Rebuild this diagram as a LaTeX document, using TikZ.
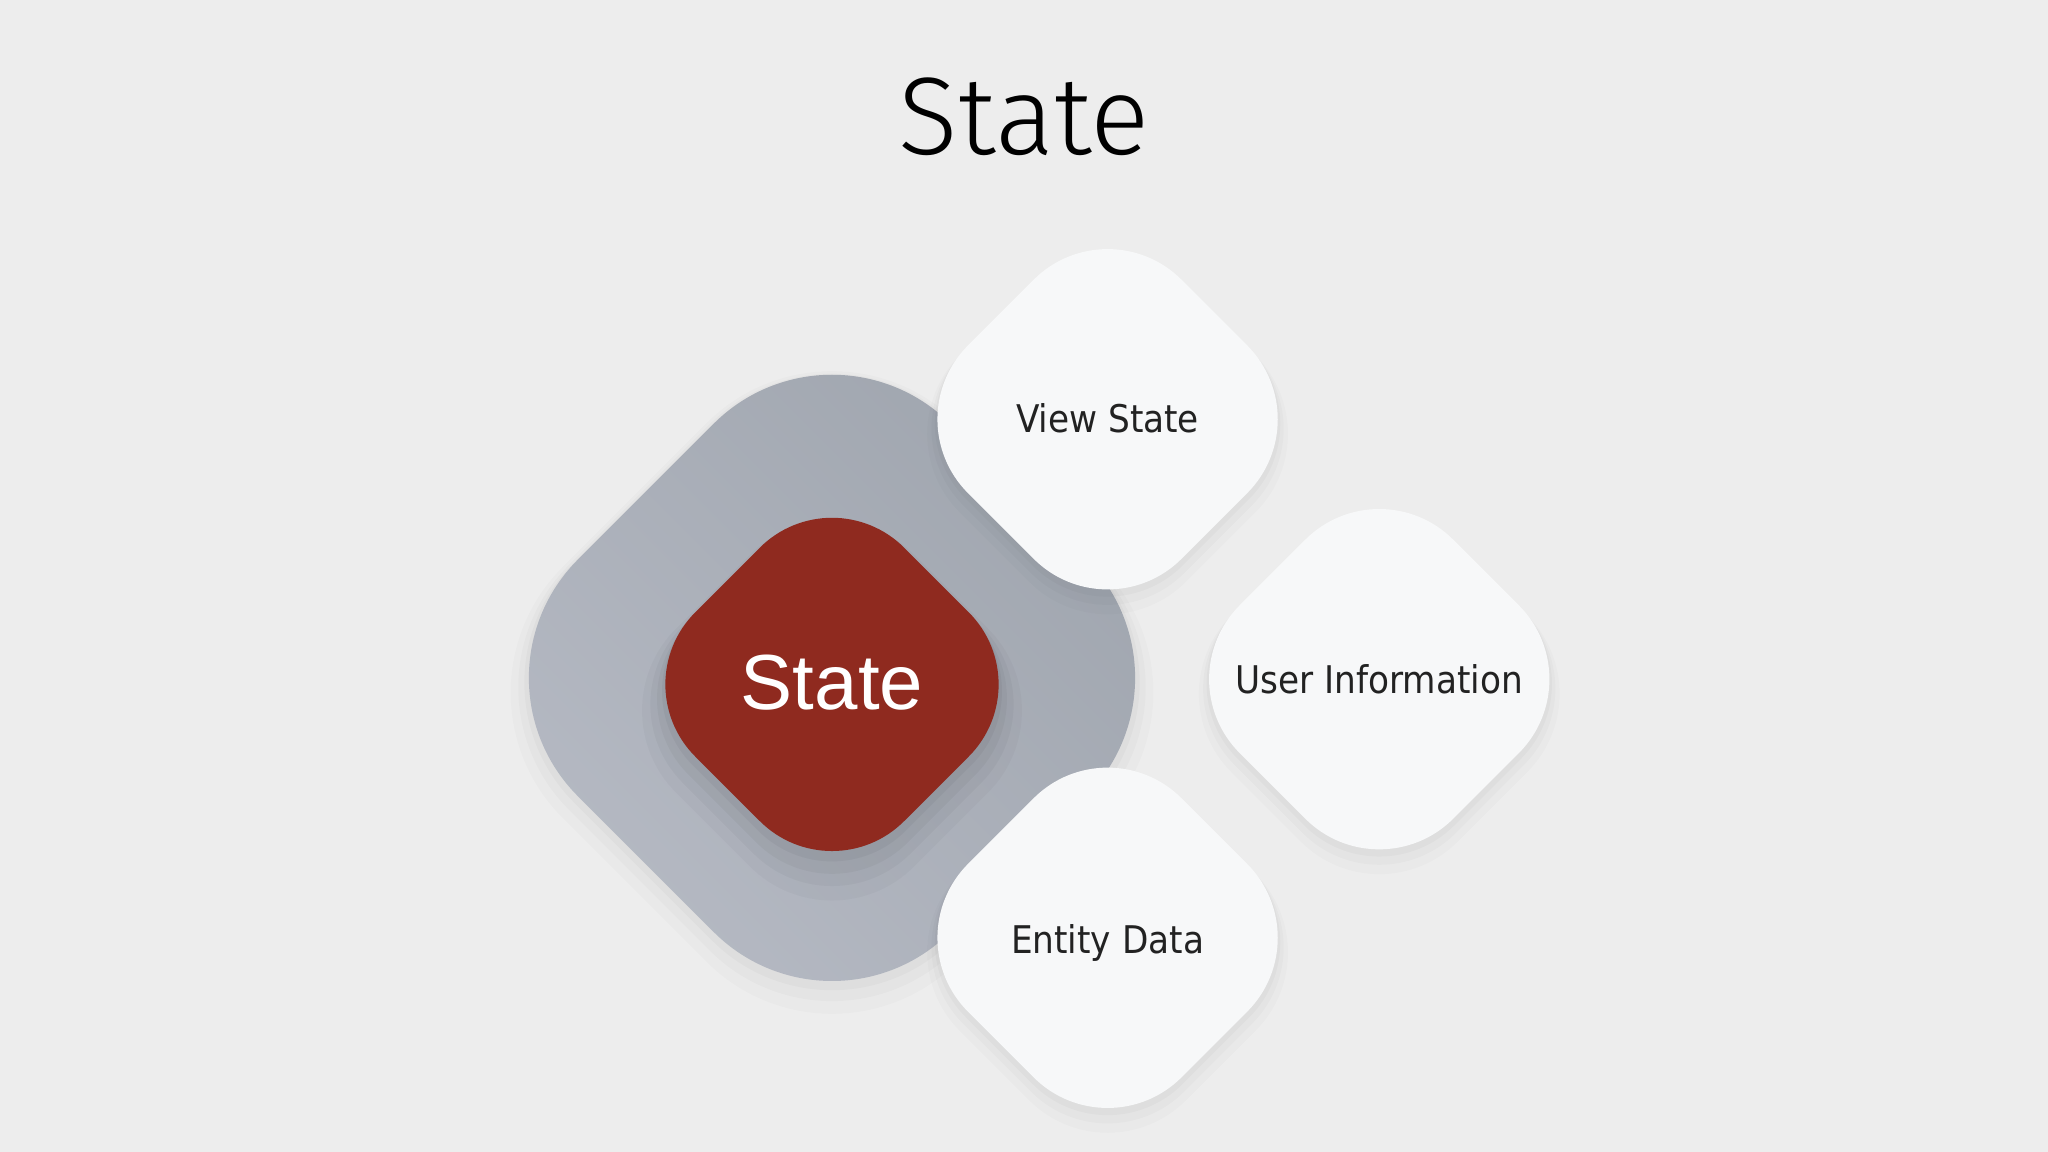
\documentclass[tikz,border=0pt]{standalone}
\usepackage{fontspec}
\setmainfont{Liberation Sans}
\newfontfamily\titlefont{Fira Sans}[UprightFont={* Light}]
\newfontfamily\tilefont{DejaVu Sans Condensed}
\usetikzlibrary{positioning,shadows}
\definecolor{bgcol}{HTML}{EDEDED}
\definecolor{tilecol}{HTML}{F7F8F9}
\definecolor{corecol}{HTML}{8F2A1F}
\definecolor{ringlight}{HTML}{B7BBC5}
\definecolor{ringdark}{HTML}{9EA4AD}
\definecolor{inkcol}{HTML}{222222}

\begin{document}
\begin{tikzpicture}[x=0.01cm,y=-0.01cm]
\tikzstyle{soft}=[general shadow={fill=black,opacity=.015,shadow scale=1.06,shadow yshift=-3pt},
                  general shadow={fill=black,opacity=.02,shadow scale=1.035,shadow yshift=-2pt},
                  general shadow={fill=black,opacity=.025,shadow scale=1.015,shadow yshift=-1pt}]
\tikzstyle{deep}=[general shadow={fill=black,opacity=.025,shadow scale=1.14,shadow yshift=-5pt},
                  general shadow={fill=black,opacity=.03,shadow scale=1.09,shadow yshift=-4pt},
                  general shadow={fill=black,opacity=.035,shadow scale=1.05,shadow yshift=-3pt},
                  general shadow={fill=black,opacity=.04,shadow scale=1.02,shadow yshift=-1.5pt}]
\tikzstyle{bk}=[rectangle,rotate=45,inner sep=0pt,outer sep=0pt]
\tikzstyle{tile}=[bk,soft,fill=tilecol,minimum size=2.31cm,rounded corners=0.8cm]
\tikzstyle{tilelabel}=[font=\tilefont\fontsize{8.3}{10}\selectfont,text=inkcol,anchor=base]

% background and frame
\fill[bgcol] (0,0) rectangle (1568,882);
\useasboundingbox (0,0) rectangle (1568,882);

\node[font=\titlefont\fontsize{24}{28}\selectfont,anchor=base] (title) at (784,118) {State};

% ring and core
\node[bk,soft,top color=ringdark,bottom color=ringlight,shading angle=-45,minimum size=4.03cm,rounded corners=1.28cm] (ring) at (637,519) {};
\node[bk,deep,fill=corecol,minimum size=2.26cm,rounded corners=0.78cm] (core) at (637,524) {};
\node[font=\fontsize{17}{20}\selectfont,text=white,anchor=base] (corel) at ([yshift=-0.19cm]core.center) {State};

% the three tiles
\node[tile] (vs) at (848,321) {};
\node[tile] (ui) at (1056,520) {};
\node[tile] (ed) at (848,718) {};

\node[tilelabel] (vsl) at ([yshift=-0.10cm]vs.center) {View State};
\node[tilelabel] (uil) at ([yshift=-0.11cm]ui.center) {User Information};
\node[tilelabel] (edl) at ([yshift=-0.12cm]ed.center) {Entity Data};
\end{tikzpicture}
\end{document}
